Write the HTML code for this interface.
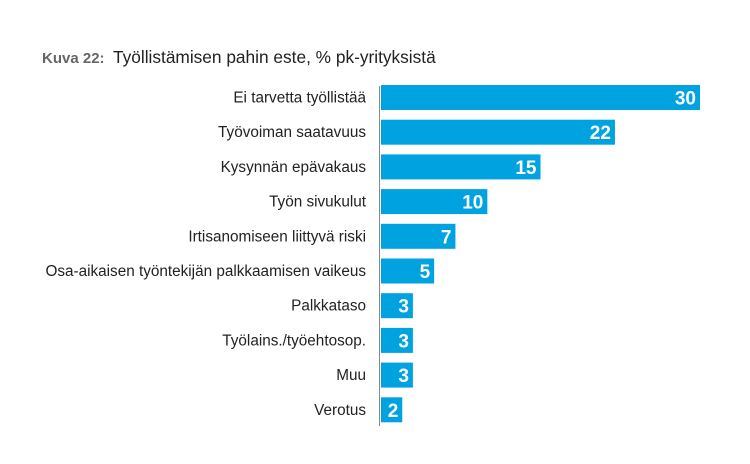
<!DOCTYPE html>
<html><head><meta charset="utf-8"><style>
body{margin:0;background:#fff;width:750px;height:459px;overflow:hidden;font-family:"Liberation Sans",sans-serif}
</style></head><body>
<svg width="750" height="459" id="c">
<text x="42" y="63" font-size="15" font-weight="bold" fill="#666">Kuva 22:</text>
<text x="113" y="63" font-size="17.3" fill="#222">Työllistämisen pahin este, % pk-yrityksistä</text>
<line x1="379.5" y1="86" x2="379.5" y2="426" stroke="#888" stroke-width="1"/>
</svg>
<script>
const categories=["Ei tarvetta työllistää","Työvoiman saatavuus","Kysynnän epävakaus","Työn sivukulut","Irtisanomiseen liittyvä riski","Osa-aikaisen työntekijän palkkaamisen vaikeus","Palkkataso","Työlains./työehtosop.","Muu","Verotus"];
const values=[30,22,15,10,7,5,3,3,3,2];
const svg=document.getElementById('c');
const NS='http://www.w3.org/2000/svg';
const x0=381,scale=(700-381)/30,y0=85,step=34.7,bh=25;
const xs=v=>v*scale, ys=i=>y0+i*step;
categories.forEach((c,i)=>{
  const y=ys(i);
  const r=document.createElementNS(NS,'rect');
  r.setAttribute('x',x0);r.setAttribute('y',y);r.setAttribute('width',xs(values[i]));r.setAttribute('height',bh);r.setAttribute('fill','#00a3e0');
  
  
  svg.appendChild(r);
  const t=document.createElementNS(NS,'text');
  t.setAttribute('x',366);t.setAttribute('y',y+bh/2+5);t.setAttribute('text-anchor','end');t.setAttribute('font-size','15.3');t.setAttribute('fill','#222');
  t.textContent=c;
  
  
  svg.appendChild(t);
  const v=document.createElementNS(NS,'text');
  v.setAttribute('x',x0+xs(values[i])-4);v.setAttribute('y',y+bh/2+7);v.setAttribute('text-anchor','end');v.setAttribute('font-size','19');v.setAttribute('font-weight','bold');v.setAttribute('fill','#fff');
  v.textContent=values[i];
  
  
  svg.appendChild(v);
});
</script>
</body></html>
